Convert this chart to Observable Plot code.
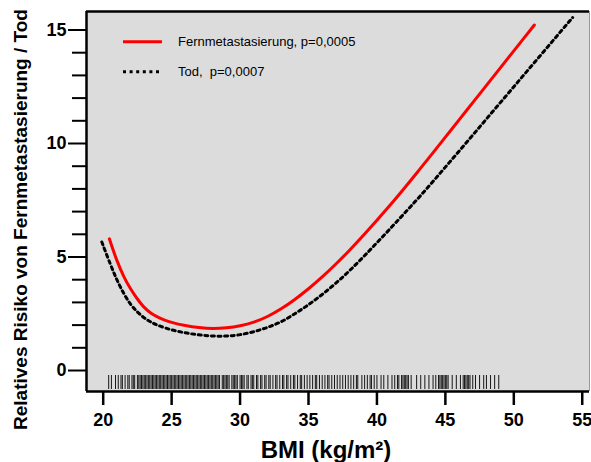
<!DOCTYPE html>
<html>
<head>
<meta charset="utf-8">
<script src="https://cdn.jsdelivr.net/npm/d3@7"></script>
<script src="https://cdn.jsdelivr.net/npm/@observablehq/plot@0.6"></script>
<style>
  html, body { margin: 0; padding: 0; background: white; }
</style>
</head>
<body>
<div id="chart"></div>
<script>
// ---- data ----
const seriesNames = ["Fernmetastasierung, p=0,0005", "Tod,  p=0,0007"];
const redBMI = [20.45, 21.0, 21.5, 22.0, 22.5, 23.0, 23.5, 24.0, 24.5, 25.0, 26.0, 27.0, 28.0, 29.0, 30.0, 31.0, 32.0, 33.0, 34.0, 35.0, 36.0, 37.0, 38.0, 39.0, 40.0, 41.0, 42.0, 43.0, 44.0, 45.0, 46.0, 47.0, 48.0, 49.0, 50.0, 51.0, 51.5];
const redRR  = [5.8, 4.85, 4.15, 3.6, 3.15, 2.78, 2.52, 2.35, 2.22, 2.12, 1.98, 1.89, 1.85, 1.88, 1.97, 2.13, 2.38, 2.72, 3.13, 3.6, 4.12, 4.69, 5.3, 5.95, 6.62, 7.31, 8.03, 8.77, 9.52, 10.28, 11.04, 11.8, 12.56, 13.32, 14.08, 14.84, 15.22];
const blackBMI = [19.9, 20.5, 21.0, 21.5, 22.0, 22.5, 23.0, 23.5, 24.0, 25.0, 26.0, 27.0, 28.0, 29.0, 30.0, 31.0, 32.0, 33.0, 34.0, 35.0, 36.0, 37.0, 38.0, 39.0, 40.0, 41.0, 42.0, 43.0, 44.0, 45.0, 46.0, 47.0, 48.0, 49.0, 50.0, 51.0, 52.0, 53.0, 54.0, 54.3];
const blackRR  = [5.66, 4.72, 4.0, 3.4, 2.92, 2.58, 2.32, 2.13, 1.99, 1.79, 1.66, 1.57, 1.52, 1.52, 1.58, 1.71, 1.9, 2.15, 2.5, 2.9, 3.35, 3.85, 4.4, 5.0, 5.63, 6.27, 6.92, 7.58, 8.26, 8.96, 9.66, 10.37, 11.08, 11.79, 12.5, 13.21, 13.92, 14.63, 15.34, 15.55];
const rugBMI = ("20.4 20.6 20.9 21.1 21.3 21.4 21.6 21.8 21.9 " +
  "22.1 22.2 22.3 22.5 22.6 22.7 22.8 22.9 23.0 23.1 23.2 23.3 23.4 23.5 23.6 23.7 23.8 23.9 24.0 24.1 24.2 24.3 24.4 24.5 24.6 24.7 24.8 24.9 " +
  "25.0 25.1 25.2 25.3 25.4 25.5 25.6 25.7 25.8 25.9 26.0 26.1 26.2 26.3 26.4 26.5 26.6 26.7 26.8 26.9 27.0 27.1 27.2 27.3 27.4 27.5 27.6 27.7 27.8 27.9 " +
  "28.0 28.1 28.2 28.3 28.4 28.5 28.7 28.8 28.9 29.0 29.1 29.2 29.4 29.5 29.6 29.7 29.8 30.0 30.1 30.2 30.3 30.5 30.6 30.8 30.9 31.0 31.2 31.3 31.5 31.6 31.8 31.9 " +
  "32.1 32.2 32.4 32.6 32.7 32.9 33.1 33.2 33.4 33.5 33.7 33.9 34.0 34.2 34.4 34.5 34.7 34.9 35.1 35.3 35.5 35.6 35.8 36.0 36.2 36.4 36.5 36.7 36.9 " +
  "37.1 37.3 37.5 37.7 37.9 38.1 38.3 38.5 38.6 38.9 39.1 39.3 39.5 39.6 39.8 40.0 40.3 40.5 40.8 41.1 41.3 41.5 41.6 41.8 41.9 42.0 42.1 42.2 42.3 42.5 " +
  "42.9 43.2 43.5 43.8 44.1 44.3 44.5 44.6 44.7 44.8 44.9 45.0 45.1 45.2 45.5 45.8 46.1 46.3 46.4 46.5 46.6 46.7 46.8 47.0 47.2 47.5 47.8 48.0 48.3 48.6 48.9")
  .split(" ").map(Number);
const xTicks = [20, 25, 30, 35, 40, 45, 50, 55];
const yMajor = [0, 5, 10, 15];
const yMinor = [1, 2, 3, 4, 6, 7, 8, 9, 11, 12, 13, 14];
const xTitle = "BMI (kg/m²)";
const yTitle = "Relatives Risiko von Fernmetastasierung / Tod";
const xDomain = [18.78, 55.53];
const yDomain = [-0.925, 15.815];

const red = redBMI.map((x, i) => ({x, y: redRR[i]}));
const black = blackBMI.map((x, i) => ({x, y: blackRR[i]}));

const chart = Plot.plot({
  width: 591, height: 462,
  marginLeft: 86, marginRight: 2, marginTop: 11, marginBottom: 71,
  x: {domain: xDomain, label: null},
  y: {domain: yDomain, label: null},
  style: {fontFamily: "'Liberation Sans', Arial, sans-serif", background: "white", color: "black"},
  marks: [
    Plot.frame({fill: "#dcdcdc", stroke: null}),
    Plot.ruleX(rugBMI, {x: d => d, insetTop: 364, insetBottom: 2, stroke: "black", strokeWidth: 1, strokeOpacity: 0.9}),
    Plot.line(red, {x: "x", y: "y", stroke: "#ff0000", strokeWidth: 3, curve: "catmull-rom"}),
    Plot.line(black, {x: "x", y: "y", stroke: "black", strokeWidth: 3, strokeDasharray: "3,3.6", curve: "catmull-rom"}),
    Plot.ruleX([xDomain[1]], {stroke: "#9a9a9a", strokeWidth: 1}),
    Plot.ruleX([xDomain[0]], {stroke: "black", strokeWidth: 2.5}),
    Plot.ruleY([yDomain[0]], {stroke: "black", strokeWidth: 2.5}),
    Plot.ruleY([yDomain[1]], {stroke: "black", strokeWidth: 2.5}),
    Plot.axisY(yMajor, {tickSize: 18, tickPadding: 2, fontSize: 18, fontWeight: "bold", strokeWidth: 2, label: null}),
    Plot.axisY(yMinor, {tickSize: 14, tickFormat: () => "", strokeWidth: 2, label: null}),
    Plot.axisX(xTicks, {tickSize: 14, tickPadding: 8, fontSize: 18, fontWeight: "bold", strokeWidth: 2.5, label: null}),
    Plot.text([yTitle], {frameAnchor: "left", text: d => d, rotate: -90, dx: -66, dy: 18, fontSize: 19, fontWeight: "bold", lineAnchor: "middle", textAnchor: "middle"}),
    Plot.text([xTitle], {frameAnchor: "bottom", text: d => d, dx: -12, dy: 66, fontSize: 24, fontWeight: "bold", lineAnchor: "bottom", textAnchor: "middle"})
  ]
});

// legend inside the panel
const svg = d3.select(chart);
const leg = svg.append("g").attr("font-family", "'Liberation Sans', Arial, sans-serif").attr("font-size", 13).attr("text-anchor", "start");
const legendRows = [
  {name: seriesNames[0], stroke: "#ff0000", dash: null, y: 41.7},
  {name: seriesNames[1], stroke: "black", dash: "3,3.6", y: 71.7}
];
legendRows.forEach(r => {
  leg.append("line").attr("x1", 123).attr("x2", 162).attr("y1", r.y).attr("y2", r.y)
    .attr("stroke", r.stroke).attr("stroke-width", 3).attr("stroke-dasharray", r.dash);
  leg.append("text").attr("x", 178).attr("y", r.y).attr("dy", "0.35em")
    .attr("text-anchor", "start").style("white-space", "pre").attr("fill", "black").text(r.name);
});

document.getElementById("chart").appendChild(chart);
</script>
</body>
</html>
